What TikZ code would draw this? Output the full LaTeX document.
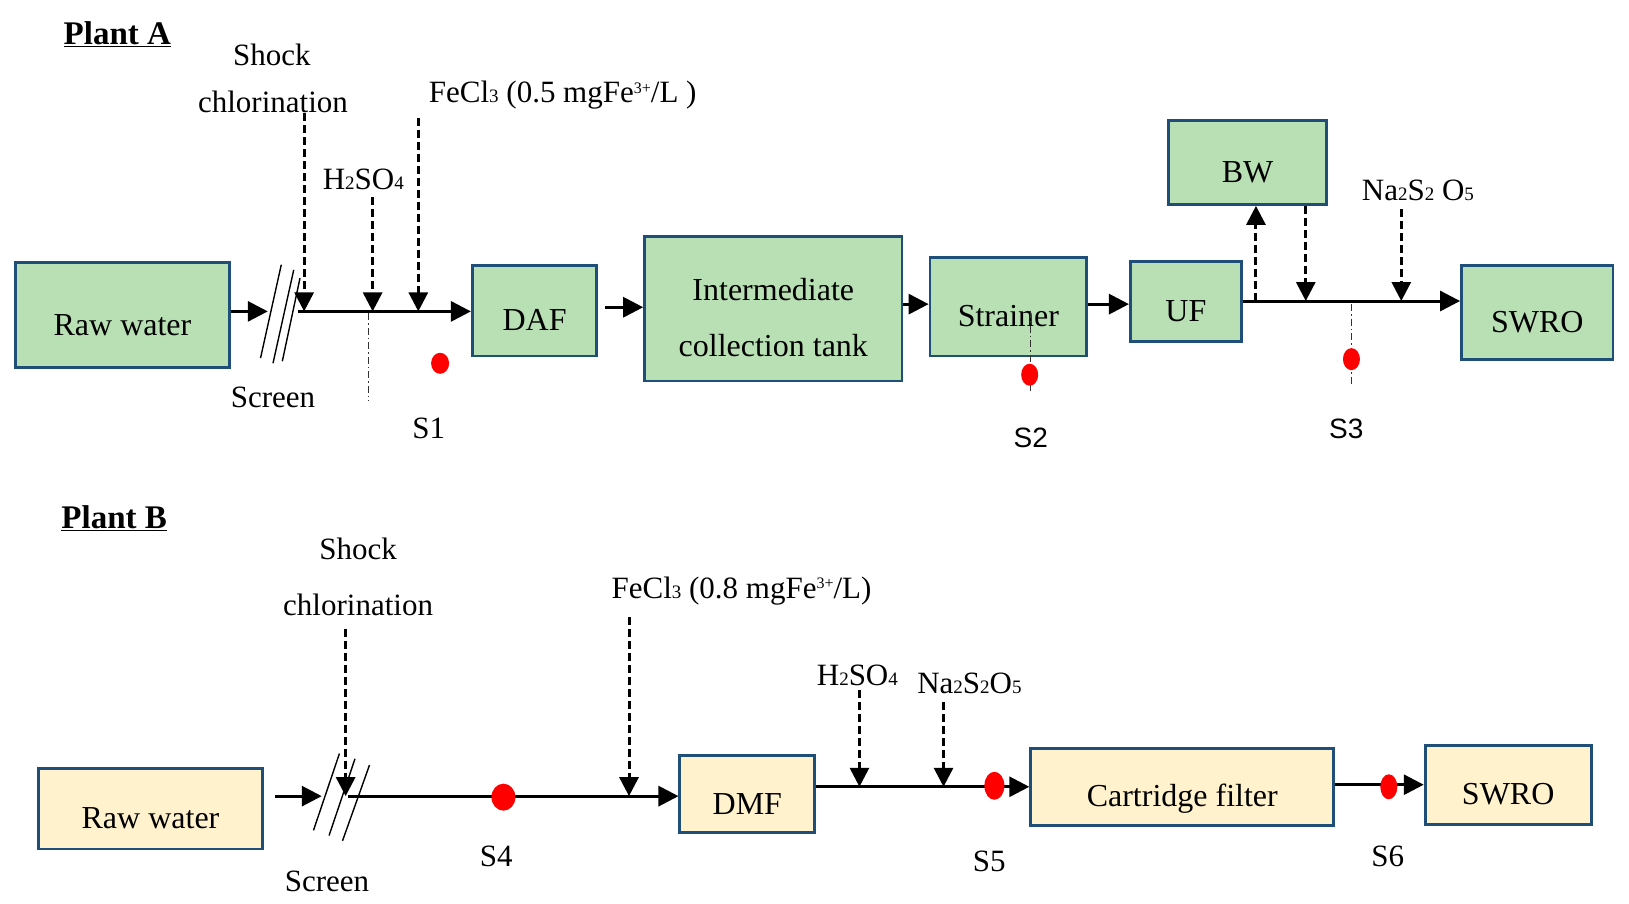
\documentclass[tikz,border=0pt]{standalone}
\usepackage{fontspec}
\setmainfont{Liberation Serif}
\setsansfont{Liberation Sans}
\usetikzlibrary{arrows.meta,calc,shapes.geometric}
\newcommand{\lo}[1]{{\fontsize{19}{19}\selectfont #1}}
\newcommand{\hi}[1]{\raisebox{0.3em}{\fontsize{16}{16}\selectfont #1}}
\definecolor{gfill}{HTML}{B9E0B4}
\definecolor{yfill}{HTML}{FFF2CC}
\definecolor{edge}{HTML}{1F4E79}
\tikzset{
  bx/.style 2 args={draw=edge, line width=2.8pt, inner sep=0pt,
    minimum width={#1*1.038pt}, minimum height={#2*1.038pt},
    font=\fontsize{32}{56}\selectfont},
  low/.style={text height=40pt, text depth=0pt},
  gbox/.style={fill=gfill},
  ybox/.style={fill=yfill},
  lbl/.style={inner sep=0pt, font=\fontsize{31}{38}\selectfont},
  slbl/.style={inner sep=0pt, font=\fontsize{28}{34}\selectfont\sffamily},
  ttl/.style={inner sep=0pt, font=\fontsize{33}{40}\selectfont\bfseries},
  flow/.style={line width=3pt, -{Triangle[length=20pt,width=20pt]}},
  dose/.style={line width=3pt, dash pattern=on 8pt off 4pt, -{Triangle[length=19pt,width=19pt]}},
  tap/.style={line width=0.9pt, black!80, dash pattern=on 7pt off 3pt on 1.5pt off 3pt},
  scr/.style={line width=1.4pt},
  dot/.style={ellipse, fill=red, inner sep=0pt}
}
\begin{document}
\begin{tikzpicture}[x=1.038pt, y=-1.038pt]
\useasboundingbox (0,0) rectangle (1569.4,870.9);

% ---------------- Plant A ----------------
\node[ttl] (titleA) at (113,33) {\underline{Plant A}};
\node[lbl] (shockA) at (262,53) {Shock};
\node[lbl] (chlorA) at (263,98) {chlorination};
\node[lbl] (h2A) at (350,173) {H\lo{2}SO\lo{4}};
\node[lbl, anchor=west] (feA) at (413,92) {FeCl\lo{3} (0.5 mgFe\hi{3+}/L )};
\node[lbl] (screenA) at (263,383) {Screen};
\node[lbl] (s1) at (413,413) {S1};
\node[slbl] (s2) at (993,422) {S2};
\node[slbl] (s3) at (1297,413) {S3};
\node[lbl] (naA) at (1366,183) {Na\lo{2}S\lo{2} O\lo{5}};

\node[bx={206}{101}, gbox, low] (rawA) at (118,303.5) {Raw water};
\node[bx={120}{87}, gbox, low] (daf) at (515,299.5) {DAF};
\node[bx={248}{139}, gbox, align=center] (ict) at (745,297.5) {\rule{0pt}{40pt}Intermediate\\collection tank};
\node[bx={151}{95}, gbox, low] (str) at (971.5,295.5) {Strainer};
\node[bx={107}{77}, gbox, low] (uf) at (1142.5,290.5) {UF};
\node[bx={152}{81}, gbox, low] (bw) at (1202,156.5) {BW};
\node[bx={146}{90}, gbox, low] (swroA) at (1481,301) {SWRO};

% screen A
\coordinate (scrA) at (258,300);
\coordinate (scrAout) at (287,300);
\draw[scr] (271,255) -- (251,345);
\draw[scr] (283,260) -- (263,350);
\draw[scr] (289,268) -- (272,348);

% main line A
\coordinate (jA1) at (293,300);
\coordinate (jA2) at (359,300);
\coordinate (jA3) at (403,300);
\draw[flow] (rawA.east |- scrA) -- (scrA);
\draw[flow] (scrAout) -- (daf.west |- scrAout);
\draw[dose] (chlorA.south -| jA1) -- (jA1);
\draw[dose] ($(h2A.south -| jA2)+(0,7)$) -- (jA2);
\draw[dose] ($(feA.south -| jA3)+(0,8)$) -- (jA3);
\draw[tap] (355,302) -- (355,386);
\node[dot, minimum width=18pt, minimum height=21pt] (d1) at (424,350) {};

\coordinate (dafout) at (583,296);
\draw[flow] (dafout) -- (ict.west |- dafout);
\draw[flow] (ict.east |- 0,293) -- (str.west |- 0,293);
\draw[flow] (str.east |- 0,293) -- (uf.west |- 0,293);
\draw[tap] (993,300) -- (993,378);
\node[dot, minimum width=17pt, minimum height=22pt] (d2) at (992,361) {};

\coordinate (ufout) at (uf.east |- 0,290);
\coordinate (jbwup) at (1210,290);
\coordinate (jbwdn) at (1258,290);
\coordinate (jna) at (1350,290);
\draw[flow] (ufout) -- (swroA.west |- ufout);
\draw[dose] (jbwup) -- (jbwup |- bw.south);
\draw[dose] (jbwdn |- bw.south) -- (jbwdn);
\draw[dose] ($(naA.south -| jna)+(0,8)$) -- (jna);
\draw[tap] (1302,293) -- (1302,372);
\node[dot, minimum width=17pt, minimum height=22pt] (d3) at (1302,346) {};

% ---------------- Plant B ----------------
\node[ttl] (titleB) at (110,499) {\underline{Plant B}};
\node[lbl] (shockB) at (345,529) {Shock};
\node[lbl] (chlorB) at (345,583) {chlorination};
\node[lbl, anchor=west] (feB) at (589,569) {FeCl\lo{3} (0.8 mgFe\hi{3+}/L)};
\node[lbl] (h2B) at (826,651) {H\lo{2}SO\lo{4}};
\node[lbl] (naB) at (934,658) {Na\lo{2}S\lo{2}O\lo{5}};
\node[lbl] (screenB) at (315,849) {Screen};
\node[lbl] (s4) at (478,825) {S4};
\node[lbl] (s5) at (953,830) {S5};
\node[lbl] (s6) at (1337,825) {S6};

\node[bx={216}{78}, ybox, low] (rawB) at (145,779) {Raw water};
\node[bx={130}{74}, ybox, low] (dmf) at (720,765) {DMF};
\node[bx={292}{74}, ybox, low] (cart) at (1139,758) {Cartridge filter};
\node[bx={160}{76}, ybox, low] (swroB) at (1453,756) {SWRO};

% screen B
\coordinate (scrBin) at (265,767);
\coordinate (scrB) at (310,767);
\coordinate (scrBout) at (335,767);
\draw[scr] (327,726) -- (302,800);
\draw[scr] (342,731) -- (317,805);
\draw[scr] (356,737) -- (330,810);

\coordinate (jB1) at (333,767);
\coordinate (jB2) at (606,767);
\draw[flow] (scrBin) -- (scrB);
\draw[flow] (scrBout) -- (dmf.west |- scrBout);
\draw[dose] ($(chlorB.south -| jB1)+(0,12)$) -- (jB1);
\draw[dose] ($(feB.south -| jB2)+(0,12)$) -- (jB2);
\node[dot, minimum width=24pt, minimum height=27pt] (d4) at (485,768) {};

\coordinate (jB3) at (828,758);
\coordinate (jB4) at (909,758);
\draw[flow] (dmf.east |- cart.west) -- (cart.west);
\draw[dose] ($(h2B.south -| jB3)+(0,4)$) -- (jB3);
\draw[dose] ($(naB.south -| jB4)+(0,8)$) -- (jB4);
\node[dot, minimum width=20pt, minimum height=28pt] (d5) at (958,757) {};

\draw[flow] (cart.east |- swroB.west) -- (swroB.west);
\node[dot, minimum width=17pt, minimum height=25pt] (d6) at (1338,758) {};
\end{tikzpicture}
\end{document}
